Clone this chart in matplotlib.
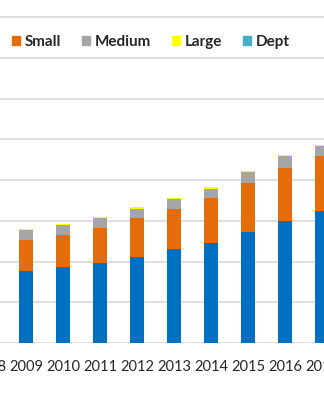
import matplotlib.pyplot as plt
from matplotlib.patches import Patch
import numpy as np

years = ["2008", "2009", "2010", "2011", "2012", "2013", "2014", "2015", "2016", "2017"]
# stacked values (gridline step = 1000)
micro = [1650, 1760, 1860, 1975, 2100, 2300, 2460, 2720, 3000, 3230]
small = [720, 760, 800, 840, 960, 980, 1090, 1210, 1300, 1350]
medium = [240, 250, 230, 245, 240, 250, 240, 260, 280, 250]
large = [30, 30, 30, 30, 30, 30, 40, 40, 30, 40]
dept = [0, 0, 0, 0, 0, 0, 0, 0, 0, 0]

colors = {"Micro": "#0070C0", "Small": "#E46C0A", "Medium": "#A5A5A5",
          "Large": "#FFFF00", "Dept": "#4BACC6"}

plt.rcParams['font.family'] = ['Lato', 'DejaVu Sans']

fig = plt.figure(figsize=(3.24, 4.0), dpi=100)
# the chart is cropped on both sides: let the axes run past the figure edges
pad = 20 / 324
ax = fig.add_axes([-pad, 0.1425, 1 + 2 * pad, 0.8175])

x = np.arange(len(years))
width = 0.4
bottom = np.zeros(len(years))
for name, vals in [("Micro", micro), ("Small", small), ("Medium", medium),
                   ("Large", large), ("Dept", dept)]:
    ax.bar(x, vals, width, bottom=bottom, color=colors[name], label=name, zorder=3)
    bottom += np.array(vals)

ax.set_yticks(np.arange(0, 8001, 1000))
ax.yaxis.grid(True, color="#D9D9D9", linewidth=1.2, zorder=0)
ax.set_yticklabels([])
ax.tick_params(axis="y", length=0)
for s in ax.spines.values():
    s.set_visible(False)

ax.set_xticks(x)
ax.set_xticklabels(years, fontsize=10.5, color="#262626")
ax.tick_params(axis="x", length=0, pad=12)

# limits after the ticks, set_xticks would widen them again
step = 37.0  # pixels between bars
ax.set_xlim(0.297 - 20 / step, 0.297 + (324 + 20) / step)
ax.set_ylim(0, 8030)

handles = [Patch(color=colors[n]) for n in ["Small", "Medium", "Large", "Dept"]]
fig.legend(handles, ["Small", "Medium", "Large", "Dept"], loc="center left",
           bbox_to_anchor=(0.037, 0.895), ncol=4, frameon=False,
           prop={"weight": "bold", "size": 11}, handlelength=0.55, handleheight=0.55,
           handletextpad=0.3, columnspacing=1.35, borderaxespad=0, borderpad=0)
for t in fig.legends[0].get_texts():
    t.set_color("#262626")

fig.savefig("out.png", dpi=100)
